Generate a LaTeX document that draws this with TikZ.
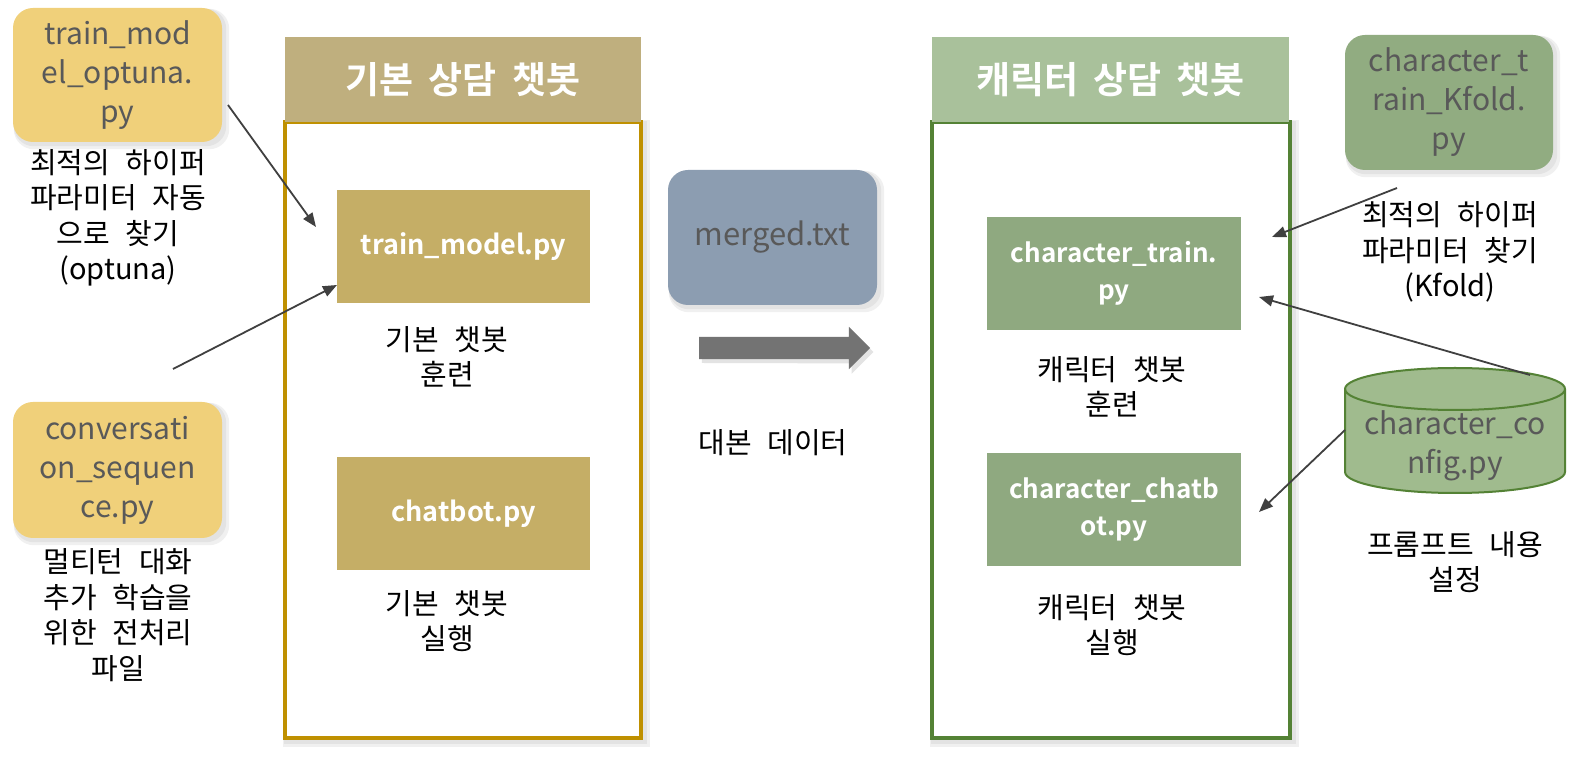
\documentclass[tikz,border=0pt]{standalone}
\usepackage{fontspec}
\setmainfont{Noto Sans CJK KR}[BoldFont={Noto Sans CJK KR Bold}]
\newfontfamily\krcap{Noto Sans CJK KR}[WordSpace=2.4]
\newfontfamily\krhead{Noto Sans CJK KR Bold}[WordSpace=1.8]
\usetikzlibrary{shapes.arrows,arrows.meta,backgrounds}
\definecolor{yel}{HTML}{F0D07A}
\definecolor{txtgray}{HTML}{595959}
\definecolor{lhead}{HTML}{BFAF7E}
\definecolor{lborder}{HTML}{BF9000}
\definecolor{lbox}{HTML}{C5AE66}
\definecolor{mbox}{HTML}{8C9DB1}
\definecolor{bigarr}{HTML}{737373}
\definecolor{rhead}{HTML}{A9C19B}
\definecolor{rborder}{HTML}{548235}
\definecolor{rbox}{HTML}{8FA980}
\definecolor{kbox}{HTML}{91AC81}
\definecolor{cylfill}{HTML}{A0BB8E}
\definecolor{arrgray}{HTML}{404040}
\tikzset{
  rbx/.style={rounded corners=20pt, minimum width=209pt, minimum height=134pt, text=txtgray, align=center, inner sep=0pt, font=\fontsize{30}{39}\selectfont},
  capt/.style={align=center, inner sep=0pt, font=\krcap\fontsize{29}{35.5}\selectfont},
  hdr/.style={minimum width=356pt, minimum height=85pt, inner sep=0pt, text=white, font=\krhead\fontsize{37}{40}\selectfont},
  panel/.style={draw, line width=3.2pt, fill=white, minimum width=356pt, minimum height=616pt, inner sep=0pt},
  ibox/.style={minimum width=253pt, minimum height=113pt, inner sep=0pt, align=center, text=white, font=\bfseries\fontsize{27}{37}\selectfont},
  con/.style={draw=arrgray, line width=1.8pt, -{Triangle[length=14pt,width=11pt]}},
  shdA/.style={fill=black!6},
  shdB/.style={fill=black!11},
}
\begin{document}
\begin{tikzpicture}[x=1pt,y=1pt]
\useasboundingbox (0,0) rectangle (1578,757);
% left panel
\node[panel, draw=lborder] (lpanel) at (463,327) {};
\node[hdr, fill=lhead] (lhdr) at (463,677.5) {기본 상담 챗봇};
\node[ibox, fill=lbox] (tm) at (463.5,510.5) {train\_model.py};
\node[capt] (tmcap) at (447,400) {기본 챗봇\\훈련};
\node[ibox, fill=lbox] (cb) at (463.5,243.5) {chatbot.py};
\node[capt] (cbcap) at (447,136) {기본 챗봇\\실행};
% right panel
\node[panel, draw=rborder, minimum width=358pt] (rpanel) at (1111,327) {};
\node[hdr, fill=rhead, minimum width=357pt] (rhdr) at (1110.5,677.5) {캐릭터 상담 챗봇};
\node[ibox, fill=rbox, minimum width=254pt, font=\bfseries\fontsize{26}{37}\selectfont] (ct) at (1114,483.5) {character\_train.\\py};
\node[capt] (ctcap) at (1112,370) {캐릭터 챗봇\\훈련};
\node[ibox, fill=rbox, minimum width=254pt, font=\bfseries\fontsize{26}{37}\selectfont] (cc) at (1114,247.5) {character\_chatb\\ot.py};
\node[capt] (cccap) at (1112,132) {캐릭터 챗봇\\실행};
% left files
\node[rbx, fill=yel] (opt) at (117.5,682) {train\_mod\\el\_optuna.\\py};
\node[capt] (optcap) at (118,539) {최적의 하이퍼\\파라미터 자동\\으로 찾기\\(optuna)};
\node[rbx, fill=yel, minimum height=136pt] (conv) at (117.5,287) {conversati\\on\_sequen\\ce.py};
\node[capt] (convcap) at (118,142) {멀티턴 대화\\추가 학습을\\위한 전처리\\파일};
% middle
\node[rbx, fill=mbox, minimum height=135pt, font=\fontsize{31}{39}\selectfont] (merged) at (772.5,519.5) {merged.txt};
\node[single arrow, fill=bigarr, minimum height=171pt, minimum width=42pt, single arrow head extend=10pt, single arrow head indent=0pt, inner xsep=0pt, inner ysep=11pt] (big) at (779,409) {};
\node[capt] (bigcap) at (773,314) {대본 데이터};
% right files
\node[rbx, fill=kbox, minimum width=208pt, minimum height=135pt] (kf) at (1449,654.5) {character\_t\\rain\_Kfold.\\py};
\node[capt] (kfcap) at (1450,505) {최적의 하이퍼\\파라미터 찾기\\(Kfold)};
% cylinder
\path[fill=cylfill, draw=rborder, line width=2pt] (1345,368) -- (1345,285) arc[start angle=180,end angle=360,x radius=110,y radius=21] -- (1565,368) arc[start angle=0,end angle=180,x radius=110,y radius=21] -- cycle;
\draw[draw=rborder, line width=2pt] (1345,368) arc[start angle=180,end angle=360,x radius=110,y radius=21];
\node[align=center, text=txtgray, inner sep=0pt, font=\fontsize{30}{39}\selectfont] (cfg) at (1455,311) {character\_co\\nfig.py};
\node[capt] (cfgcap) at (1455,195) {프롬프트 내용\\설정};
% connectors
\coordinate (a1s) at (228,652); \coordinate (a1e) at (316,530);
\coordinate (a2s) at (173,388); \coordinate (a2e) at (337,472);
\coordinate (a3s) at (1397,569); \coordinate (a3e) at (1272,520);
\coordinate (a4s) at (1530,382); \coordinate (a4e) at (1259,460);
\coordinate (a5s) at (1345,327); \coordinate (a5e) at (1259,245);
\draw[con] (a1s) -- (a1e);
\draw[con] (a2s) -- (a2e);
\draw[con] (a3s) -- (a3e);
\draw[con] (a4s) -- (a4e);
\draw[con] (a5s) -- (a5e);
% shadows
\begin{scope}[on background layer]
\fill[white] (0,0) rectangle (1578,757);
\foreach \n in {lpanel,rpanel,tm,cb,ct,cc}{
  \fill[shdA] ([shift={(0pt,-7pt)}]\n.south west) rectangle ([shift={(7pt,0pt)}]\n.north east);
  \fill[shdB] ([shift={(1pt,-4pt)}]\n.south west) rectangle ([shift={(4pt,-1pt)}]\n.north east);
}
\foreach \n in {opt,conv,merged,kf}{
  \fill[shdA, rounded corners=20pt] ([shift={(1pt,-7pt)}]\n.south west) rectangle ([shift={(7pt,-1pt)}]\n.north east);
  \fill[shdB, rounded corners=20pt] ([shift={(1pt,-4pt)}]\n.south west) rectangle ([shift={(4pt,-1pt)}]\n.north east);
}
\fill[shdB] ([shift={(3pt,-4pt)}]big.tail) -- ++(0,11) -- ([shift={(3pt,-4pt)}]big.before head) -- ([shift={(3pt,-4pt)}]big.before tip) -- ([shift={(3pt,-4pt)}]big.tip) -- ([shift={(3pt,-4pt)}]big.after tip) -- ([shift={(3pt,-4pt)}]big.after head) -- ([shift={(3pt,-15pt)}]big.tail) -- cycle;
\end{scope}
\end{tikzpicture}
\end{document}
